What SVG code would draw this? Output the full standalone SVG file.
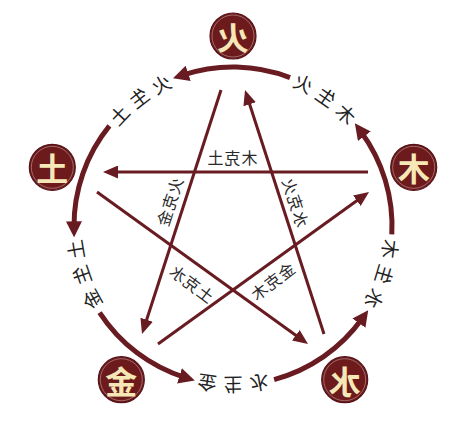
<svg xmlns="http://www.w3.org/2000/svg" width="474" height="428" viewBox="0 0 474 428">
<style>
.arc{fill:none;stroke:#681b21;stroke-width:5;marker-end:url(#bigArrow)}
.ke{fill:none;stroke:#681b21;stroke-width:3;marker-end:url(#smallArrow)}
.node circle.bg{fill:#6d1a1d;stroke:#561317;stroke-width:1.2}
.node circle.ring{fill:none;stroke:#c8a7a0;stroke-width:0.8;opacity:0.7}
.node text{font-family:"Noto Sans CJK SC","Noto Sans CJK TC",sans-serif;font-weight:700;font-size:32px;fill:#f6e8b6;text-anchor:middle;dominant-baseline:central}
.sheng{font-family:"Noto Sans CJK SC","Noto Sans CJK TC",sans-serif;font-size:19px;letter-spacing:6px;fill:#222222;text-anchor:middle}
.kelbl{font-family:"Noto Sans CJK SC","Noto Sans CJK TC",sans-serif;font-size:16px;letter-spacing:1px;fill:#2a2a2a;text-anchor:middle;dominant-baseline:central}
</style>
<defs>
<marker id="bigArrow" markerUnits="userSpaceOnUse" markerWidth="16" markerHeight="16" refX="6" refY="8" orient="auto">
<path d="M0,0 L16,8 L0,16 z" fill="#681b21"/>
</marker>
<marker id="smallArrow" markerUnits="userSpaceOnUse" markerWidth="15" markerHeight="13" refX="5" refY="6.5" orient="auto">
<path d="M0,0 L15,6.5 L0,13 z" fill="#681b21"/>
</marker>
<path id="ringPath" d="M392.5,226 A151.5,151.5 0 1 1 89.5,226 A151.5,151.5 0 1 1 392.5,226"/>
</defs>
<rect width="474" height="428" fill="#ffffff"/>
<g transform="matrix(-1 0 0 1 474 0)">
<g id="connectors">
<path class="arc" d="M374.4,312.6 A159,159 0 0 1 288.8,377.6"/>
<path class="arc" d="M199.9,379.6 A159,159 0 0 1 111.6,318.3"/>
<path class="arc" d="M82.2,234.3 A159,159 0 0 1 113.2,131.4"/>
<path class="arc" d="M184.0,77.6 A159,159 0 0 1 291.5,75.2"/>
<path class="arc" d="M364.6,125.9 A159,159 0 0 1 400.0,227.4"/>
<line class="ke" x1="106" y1="172" x2="361" y2="172"/>
<line class="ke" x1="253" y1="90" x2="328.9" y2="324.5"/>
<line class="ke" x1="150" y1="334" x2="225.9" y2="99.5"/>
<line class="ke" x1="377" y1="192" x2="174.1" y2="338.2"/>
<line class="ke" x1="316" y1="344" x2="113.1" y2="197.8"/>
</g>
<g id="labels">
<text class="sheng"><textPath href="#ringPath" startOffset="50.6">土生金</textPath></text>
<text class="sheng"><textPath href="#ringPath" startOffset="241">金生水</textPath></text>
<text class="sheng"><textPath href="#ringPath" startOffset="431.5">水生木</textPath></text>
<text class="sheng"><textPath href="#ringPath" startOffset="621.9">木生火</textPath></text>
<text class="sheng"><textPath href="#ringPath" startOffset="812.3">火生土</textPath></text>
<text class="kelbl" x="242" y="157">木克土</text>
<text class="kelbl" transform="translate(305,202) rotate(72)">火克金</text>
<text class="kelbl" transform="translate(178,202) rotate(-72)">水克火</text>
<text class="kelbl" transform="translate(282,283) rotate(-37)">土克水</text>
<text class="kelbl" transform="translate(202,281) rotate(37)">金克木</text>
</g>
<g id="fire" class="node"><circle class="bg" cx="241" cy="36" r="23"/><circle class="ring" cx="241" cy="36" r="21"/><text x="241" y="36">火</text></g>
<g id="earth" class="node"><circle class="bg" cx="421.7" cy="167.3" r="23"/><circle class="ring" cx="421.7" cy="167.3" r="21"/><text x="421.7" y="167.3">土</text></g>
<g id="metal" class="node"><circle class="bg" cx="352.7" cy="379.7" r="23"/><circle class="ring" cx="352.7" cy="379.7" r="21"/><text x="352.7" y="379.7">金</text></g>
<g id="water" class="node"><circle class="bg" cx="129.3" cy="379.7" r="23"/><circle class="ring" cx="129.3" cy="379.7" r="21"/><text x="129.3" y="379.7">水</text></g>
<g id="wood" class="node"><circle class="bg" cx="60.3" cy="167.3" r="23"/><circle class="ring" cx="60.3" cy="167.3" r="21"/><text x="60.3" y="167.3">木</text></g>
</g>
</svg>
